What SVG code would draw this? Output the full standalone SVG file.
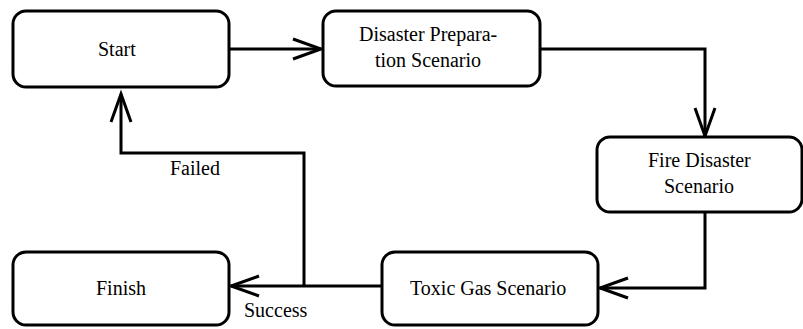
<svg xmlns="http://www.w3.org/2000/svg" width="803" height="329" viewBox="0 0 803 329">
<defs>
<marker id="arr" markerUnits="userSpaceOnUse" orient="auto" overflow="visible" markerWidth="1" markerHeight="1" refX="0" refY="0">
<path d="M-28,-10 L0,0 L-28,10" fill="none" stroke="#000" stroke-width="3"/>
</marker>
</defs>
<rect width="803" height="329" fill="#fff"/>
<g id="connectors" fill="none" stroke="#000" stroke-width="3">
<path d="M229,49 L321,49" marker-end="url(#arr)"/>
<path d="M540,49 L705,49 L705,136" marker-end="url(#arr)"/>
<path d="M705,212 L705,288 L600,288" marker-end="url(#arr)"/>
<path d="M381,286 L231,286" marker-end="url(#arr)"/>
<path d="M304,286 L304,153 L121,153 L121,94" marker-end="url(#arr)"/>
</g>
<g id="labels">
<text x="170" y="175" font-family="Liberation Serif" font-size="20">Failed</text>
<text x="244" y="317" font-family="Liberation Serif" font-size="20">Success</text>
</g>
<g id="start">
<rect x="13" y="11" width="216" height="76" rx="13" fill="#fff" stroke="#000" stroke-width="3"/>
<text x="98" y="56" font-family="Liberation Serif" font-size="20">Start</text>
</g>
<g id="disaster-prep">
<rect x="323" y="11" width="217" height="75" rx="13" fill="#fff" stroke="#000" stroke-width="3"/>
<text x="359" y="41" font-family="Liberation Serif" font-size="20">Disaster Prepara-</text>
<text x="375" y="67" font-family="Liberation Serif" font-size="20">tion Scenario</text>
</g>
<g id="fire">
<rect x="597" y="137" width="205" height="75" rx="13" fill="#fff" stroke="#000" stroke-width="3"/>
<text x="648" y="167" font-family="Liberation Serif" font-size="20">Fire Disaster</text>
<text x="664" y="193" font-family="Liberation Serif" font-size="20">Scenario</text>
</g>
<g id="toxic">
<rect x="382" y="252" width="216" height="73" rx="13" fill="#fff" stroke="#000" stroke-width="3"/>
<text x="410" y="295" font-family="Liberation Serif" font-size="20">Toxic Gas Scenario</text>
</g>
<g id="finish">
<rect x="13" y="252" width="216" height="73" rx="13" fill="#fff" stroke="#000" stroke-width="3"/>
<text x="96" y="295" font-family="Liberation Serif" font-size="20">Finish</text>
</g>
</svg>
